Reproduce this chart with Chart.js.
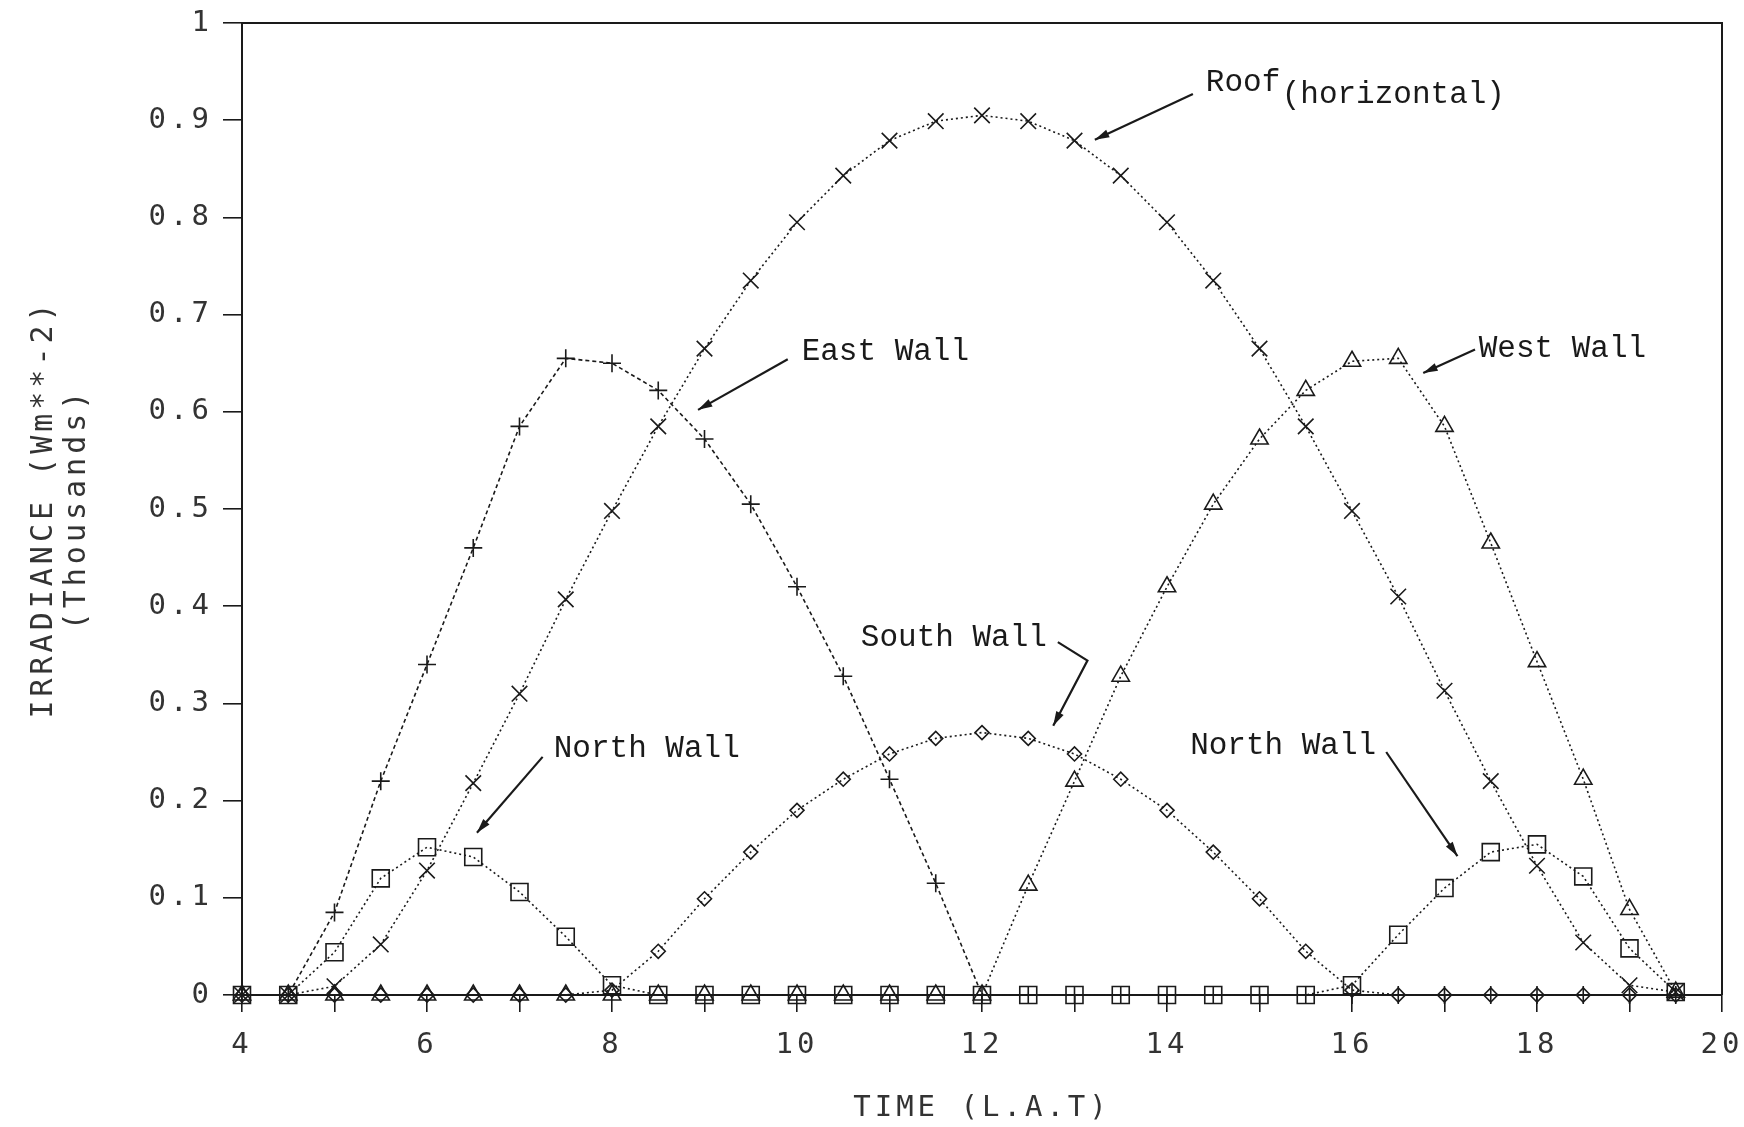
<!DOCTYPE html>
<html>
<head>
<meta charset="utf-8">
<title>Irradiance on roof and walls</title>
<script src="https://cdn.jsdelivr.net/npm/chart.js@4.4.1/dist/chart.umd.min.js"></script>
<style>
  html, body { margin: 0; padding: 0; background: #fff; }
  #wrap { width: 1744px; height: 1127px; position: relative; }
</style>
</head>
<body>
<div id="wrap"><canvas id="chart"></canvas></div>
<script>
// local apparent time (hours)
const times = [4, 4.5, 5, 5.5, 6, 6.5, 7, 7.5, 8, 8.5, 9, 9.5, 10, 10.5, 11, 11.5,
               12, 12.5, 13, 13.5, 14, 14.5, 15, 15.5, 16, 16.5, 17, 17.5, 18, 18.5, 19, 19.5];

// irradiance, thousands of W/m2
const roof  = [0, 0, 0.009, 0.052, 0.128, 0.218, 0.31, 0.407, 0.498, 0.585, 0.665, 0.735, 0.795, 0.843, 0.879, 0.899,
               0.905, 0.899, 0.879, 0.843, 0.795, 0.735, 0.665, 0.585, 0.498, 0.41, 0.313, 0.22, 0.133, 0.054, 0.01, 0.003];
const east  = [0, 0, 0.085, 0.22, 0.34, 0.46, 0.585, 0.655, 0.65, 0.622, 0.572, 0.505, 0.42, 0.328, 0.222, 0.115,
               0, 0, 0, 0, 0, 0, 0, 0, 0, 0, 0, 0, 0, 0, 0, 0];
const west  = [0, 0, 0, 0, 0, 0, 0, 0, 0, 0, 0, 0, 0, 0, 0, 0,
               0, 0.113, 0.22, 0.328, 0.42, 0.505, 0.572, 0.622, 0.652, 0.655, 0.585, 0.465, 0.343, 0.222, 0.088, 0.003];
const south = [0, 0, 0, 0, 0, 0, 0, 0, 0.005, 0.045, 0.099, 0.147, 0.19, 0.222, 0.248, 0.264,
               0.27, 0.264, 0.248, 0.222, 0.19, 0.147, 0.099, 0.045, 0.005, 0, 0, 0, 0, 0, 0, 0];
const north = [0, 0, 0.044, 0.12, 0.152, 0.142, 0.106, 0.06, 0.01, 0, 0, 0, 0, 0, 0, 0,
               0, 0, 0, 0, 0, 0, 0, 0, 0.01, 0.062, 0.11, 0.147, 0.155, 0.122, 0.048, 0.003];

// callout labels (data coordinates, x = left edge of text)
const labelTexts = ['Roof', '(horizontal)', 'East Wall', 'West Wall', 'South Wall', 'North Wall', 'North Wall'];
const labelX = [14.42, 15.24, 10.05, 17.37, 10.69, 7.37, 14.25];
const labelY = [0.938, 0.926, 0.662, 0.665, 0.368, 0.253, 0.256];

// callout arrows, last point gets the head
const arrowPaths = [
  [[14.28, 0.927], [13.22, 0.880]],
  [[9.90, 0.654], [8.93, 0.602]],
  [[17.33, 0.664], [16.77, 0.640]],
  [[12.82, 0.363], [13.14, 0.344], [12.77, 0.277]],
  [[7.25, 0.245], [6.54, 0.167]],
  [[16.37, 0.250], [17.14, 0.143]]
];

const ink = '#1a1a1a';

function series(values) {
  return times.map((t, i) => ({ x: t, y: values[i] }));
}

function lineSet(label, values, style, radius, dash) {
  return {
    label: label,
    data: series(values),
    borderColor: ink,
    borderWidth: 1.6,
    borderDash: dash,
    pointStyle: style,
    pointRadius: radius,
    pointBorderColor: ink,
    pointBorderWidth: 1.6,
    pointBackgroundColor: 'rgba(0,0,0,0)',
    tension: 0,
    clip: false
  };
}

const annotate = {
  id: 'annotate',
  beforeDraw(chart) {
    chart.ctx.letterSpacing = '4px';
  },
  beforeDatasetsDraw(chart) {
    const { ctx, chartArea: a } = chart;
    ctx.letterSpacing = '0px';
    ctx.save();
    ctx.strokeStyle = ink;
    ctx.lineWidth = 2;
    ctx.beginPath();
    ctx.moveTo(a.left, a.top);
    ctx.lineTo(a.right, a.top);
    ctx.lineTo(a.right, a.bottom);
    ctx.stroke();
    ctx.restore();
  },
  afterDraw(chart) {
    const { ctx, scales: { x, y } } = chart;
    ctx.save();
    ctx.letterSpacing = '0px';
    ctx.fillStyle = ink;
    ctx.font = '31px "Liberation Mono", "DejaVu Sans Mono", monospace';
    ctx.textAlign = 'left';
    ctx.textBaseline = 'middle';
    labelTexts.forEach((t, i) => {
      ctx.fillText(t, x.getPixelForValue(labelX[i]), y.getPixelForValue(labelY[i]));
    });

    ctx.strokeStyle = ink;
    ctx.lineWidth = 2.2;
    arrowPaths.forEach(path => {
      const pts = path.map(p => [x.getPixelForValue(p[0]), y.getPixelForValue(p[1])]);
      ctx.beginPath();
      ctx.moveTo(pts[0][0], pts[0][1]);
      for (let i = 1; i < pts.length; i++) ctx.lineTo(pts[i][0], pts[i][1]);
      ctx.stroke();
      // head
      const [ex, ey] = pts[pts.length - 1];
      const [sx, sy] = pts[pts.length - 2];
      const ang = Math.atan2(ey - sy, ex - sx);
      const len = 15, half = 0.28;
      ctx.beginPath();
      ctx.moveTo(ex, ey);
      ctx.lineTo(ex - len * Math.cos(ang - half), ey - len * Math.sin(ang - half));
      ctx.lineTo(ex - len * Math.cos(ang + half), ey - len * Math.sin(ang + half));
      ctx.closePath();
      ctx.fill();
    });
    ctx.restore();
  }
};

const tickFont = { family: '"DejaVu Sans Mono", monospace', size: 29 };

new Chart(document.getElementById('chart'), {
  type: 'line',
  data: {
    datasets: [
      lineSet('South Wall', south, 'rectRot', 7, [2, 3]),
      lineSet('North Wall', north, 'rect', 12, [2, 3]),
      lineSet('West Wall', west, 'triangle', 10, [2, 3]),
      lineSet('East Wall', east, 'cross', 9, [4, 3]),
      lineSet('Roof (horizontal)', roof, 'crossRot', 11, [2, 3])
    ]
  },
  options: {
    responsive: true,
    maintainAspectRatio: false,
    animation: false,
    layout: { padding: { top: 23, right: 22, left: 0, bottom: 0 } },
    plugins: {
      legend: { display: false },
      tooltip: { enabled: false }
    },
    scales: {
      x: {
        type: 'linear',
        min: 4,
        max: 20,
        ticks: {
          stepSize: 1,
          autoSkip: false,
          maxRotation: 0,
          padding: 16,
          color: '#333',
          font: tickFont,
          callback: v => (v % 2 === 0 ? String(v) : '')
        },
        grid: { drawOnChartArea: false, tickLength: 17, color: ink, lineWidth: 1.6 },
        border: { display: true, color: ink, width: 2 },
        title: {
          display: true,
          text: 'TIME (L.A.T)',
          color: '#333',
          font: { family: '"DejaVu Sans Mono", monospace', size: 29, lineHeight: 1 },
          padding: { top: 0, bottom: 4 }
        },
        afterFit(scale) {
          scale.height = 132;
          scale.paddingLeft = 0;
          scale.paddingRight = 0;
        }
      },
      y: {
        min: 0,
        max: 1,
        ticks: {
          stepSize: 0.1,
          padding: 10,
          color: '#333',
          font: tickFont,
          callback: v => {
            const r = Math.round(v * 10) / 10;
            return r === 0 || r === 1 ? String(r) : r.toFixed(1);
          }
        },
        grid: { drawOnChartArea: false, tickLength: 19, color: ink, lineWidth: 1.6 },
        border: { display: true, color: ink, width: 2 },
        title: {
          display: true,
          text: ['IRRADIANCE (Wm**-2)', '(Thousands)'],
          color: '#333',
          font: { family: '"DejaVu Sans Mono", monospace', size: 30, lineHeight: 1.1 },
          padding: { top: 28, bottom: 0 }
        },
        afterFit(scale) {
          scale.width = 242;
          scale.paddingTop = 0;
          scale.paddingBottom = 0;
        }
      }
    }
  },
  plugins: [annotate]
});
</script>
</body>
</html>
